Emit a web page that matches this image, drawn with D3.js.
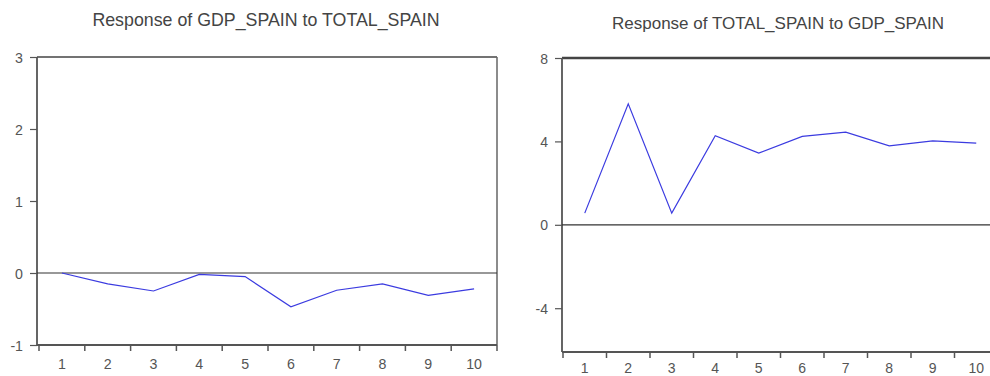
<!DOCTYPE html>
<html>
<head>
<meta charset="utf-8">
<script src="https://cdn.jsdelivr.net/npm/d3@7"></script>
<style>
  html, body { margin: 0; padding: 0; background: #fff; }
  svg { display: block; }
  text { font-family: "Liberation Sans", Arial, sans-serif; fill: #555; }
</style>
</head>
<body>
<svg id="chart" width="990" height="376"></svg>
<script>
// ---- data ----
const periods = [1, 2, 3, 4, 5, 6, 7, 8, 9, 10];
const responseGdpToTotal = [0.0, -0.15, -0.25, -0.02, -0.05, -0.47, -0.24, -0.15, -0.31, -0.22];
const responseTotalToGdp = [0.56, 5.8, 0.56, 4.27, 3.44, 4.24, 4.44, 3.79, 4.03, 3.92];
const leftYTicks = [-1, 0, 1, 2, 3];
const rightYTicks = [-4, 0, 4, 8];
const titles = ["Response of GDP_SPAIN to TOTAL_SPAIN", "Response of TOTAL_SPAIN to GDP_SPAIN"];

const svg = d3.select("#chart");

const panels = [
  { title: titles[0], values: responseGdpToTotal, yTicks: leftYTicks, yDomain: [-1, 3],
    left: 37, right: 497, top: 57, bottom: 345, bandL: 39, bandR: 497,
    titleX: 266, titleY: 26, titleSize: 17.8, tickSize: 14.2, xLabelY: 369, yLabelX: 23, topW: 1.5 },
  { title: titles[1], values: responseTotalToGdp, yTicks: rightYTicks, yDomain: [-6.1, 8],
    left: 562, right: 1000, top: 58, bottom: 352, bandL: 563, bandR: 998,
    titleX: 778, titleY: 29, titleSize: 17, tickSize: 14, xLabelY: 373, yLabelX: 548, topW: 2.5 }
];

panels.forEach(p => {
  const g = svg.append("g");
  const x = d3.scaleBand().domain(periods).range([p.bandL, p.bandR]);
  const y = d3.scaleLinear().domain(p.yDomain).range([p.bottom, p.top]);

  // title
  g.append("text")
    .attr("x", p.titleX).attr("y", p.titleY)
    .attr("text-anchor", "middle")
    .style("font-size", p.titleSize + "px")
    .style("fill", "#444")
    .text(p.title);

  // frame
  g.append("line").attr("x1", p.left).attr("x2", p.right).attr("y1", p.top).attr("y2", p.top)
    .attr("stroke", "#444").attr("stroke-width", p.topW);
  g.append("line").attr("x1", p.right).attr("x2", p.right).attr("y1", p.top).attr("y2", p.bottom)
    .attr("stroke", "#666").attr("stroke-width", 1.5);

  // y axis
  const yAxis = d3.axisLeft(y).tickValues(p.yTicks).tickSize(7).tickPadding(0).tickFormat(d => String(d));
  const ya = g.append("g").attr("transform", `translate(${p.left},0)`).call(yAxis);
  ya.select(".domain").attr("d", `M0,${p.top}V${p.bottom}`).attr("stroke", "#555").attr("stroke-width", 1.8);
  ya.selectAll(".tick line").attr("stroke", "#555").attr("stroke-width", 1.2);
  ya.selectAll(".tick text")
    .attr("x", p.yLabelX - p.left)
    .attr("dy", "0.36em")
    .style("font-size", p.tickSize + "px")
    .style("font-family", "'Liberation Sans', Arial, sans-serif")
    .attr("fill", "#555");

  // x axis (ticks at band boundaries, labels at band centres)
  const xa = g.append("g").attr("transform", `translate(0,${p.bottom})`);
  xa.append("line").attr("x1", p.left).attr("x2", p.right).attr("y1", 0).attr("y2", 0)
    .attr("stroke", "#555").attr("stroke-width", 1.8);
  const bounds = periods.map(d => x(d)).concat([x(periods[periods.length - 1]) + x.bandwidth()]);
  xa.selectAll("line.xt").data(bounds).join("line").attr("class", "xt")
    .attr("x1", d => d).attr("x2", d => d).attr("y1", 0).attr("y2", 6)
    .attr("stroke", "#555").attr("stroke-width", 1.5);
  g.selectAll("text.xl").data(periods).join("text").attr("class", "xl")
    .attr("x", d => x(d) + x.bandwidth() / 2)
    .attr("y", p.xLabelY)
    .attr("text-anchor", "middle")
    .style("font-size", p.tickSize + "px")
    .text(d => d);

  // zero line
  g.append("line").attr("x1", p.left).attr("x2", p.right).attr("y1", y(0)).attr("y2", y(0))
    .attr("stroke", "#333").attr("stroke-width", 1.2);

  // response line
  const line = d3.line()
    .x((d, i) => x(periods[i]) + x.bandwidth() / 2)
    .y(d => y(d));
  g.append("path").datum(p.values)
    .attr("d", line)
    .attr("fill", "none")
    .attr("stroke", "#3b3be0")
    .attr("stroke-width", 1.2);
});
</script>
</body>
</html>
